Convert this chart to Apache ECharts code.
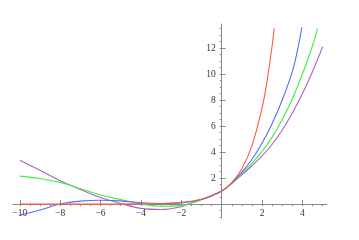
<!DOCTYPE html>
<html><head><meta charset="utf-8">
<script src="https://cdn.jsdelivr.net/npm/echarts@6/dist/echarts.min.js"></script>
<style>html,body{margin:0;padding:0;background:#fff}#c{width:359px;height:240px}</style>
</head><body><div id="c"></div>
<script>
// x positions and read values for each curve
const redX    = [-10, -9, -8, -7, -6, -5, -4, -3, -2, -1.5, -1, -0.5, 0, 0.5, 1, 1.5, 2, 2.25, 2.5, 2.6];
const redY    = [0, 0, 0, 0, 0, 0.01, 0.02, 0.05, 0.14, 0.22, 0.37, 0.61, 1, 1.65, 2.72, 4.5, 7.4, 9.5, 12.2, 13.5];
const blueX   = [-10, -9, -8, -7, -6, -5, -4, -3, -2, -1, 0, 0.5, 1, 1.5, 2, 2.5, 3, 3.5, 3.75, 3.97];
const blueY   = [-0.85, -0.45, 0, 0.23, 0.3, 0.25, 0.1, 0.04, 0.08, 0.37, 1, 1.62, 2.45, 3.45, 4.7, 6.2, 8.0, 10.2, 11.8, 13.6];
const greenX  = [-10, -9, -8, -7, -6, -5, -4, -3, -2, -1, 0, 0.5, 1, 1.5, 2, 2.5, 3, 3.5, 4, 4.5, 4.75];
const greenY  = [2.15, 1.97, 1.67, 1.2, 0.7, 0.35, 0.02, -0.17, -0.1, 0.35, 1, 1.6, 2.35, 3.15, 4.05, 5.15, 6.5, 8.1, 10.0, 12.2, 13.5];
const purpleX = [-10, -9, -8, -7, -6, -5, -4, -3, -2, -1.5, -1, 0, 0.5, 1, 1.5, 2, 2.5, 3, 3.5, 4, 4.5, 5];
const purpleY = [3.38, 2.6, 1.8, 1.13, 0.5, 0.05, -0.33, -0.42, -0.2, 0.08, 0.33, 1, 1.6, 2.25, 2.95, 3.7, 4.6, 5.7, 7.0, 8.5, 10.2, 12.1];

const xMajor = [-10, -8, -6, -4, -2, 0, 2, 4];
const xLabels = [-10, -8, -6, -4, -2, 2, 4];
const yMajor = [0, 2, 4, 6, 8, 10, 12];
const yLabels = [2, 4, 6, 8, 10, 12];

const halves = (a, b) => { const r = []; for (let v = a; v <= b + 1e-9; v += 0.5) r.push(Math.round(v * 2) / 2); return r; };
const xMinor = halves(-10, 5);
const yMinor = halves(-1, 13.5);
const pairs = (xs, ys) => xs.map((x, i) => [x, ys[i]]);

const W = 359, H = 240;
const G = {left: 12.7, right: 32.3, top: 24, bottom: 22};
const X0 = -10.35, X1 = 5.2, Y0 = -1.07, Y1 = 13.85;
// labels stay at the grid edges, so shift them onto the zero-crossing axes
const gw = W - G.left - G.right, gh = H - G.top - G.bottom;
const zeroXpx = (0 - X0) / (X1 - X0) * gw;          // from grid left
const zeroYpx = (0 - Y0) / (Y1 - Y0) * gh;          // from grid bottom
const xLabMargin = -zeroYpx + 4.5;
const yLabMargin = -zeroXpx + 6;

const axisCol = '#8a8a8a';
const lab = {fontFamily: 'Liberation Serif, Times New Roman, serif', fontSize: 9.5, color: '#333',
  formatter: v => String(v).replace('-', '\u2212')};

const chart = echarts.init(document.getElementById('c'), null, {renderer: 'canvas'});
chart.setOption({
  animation: false,
  grid: Object.assign({containLabel: false}, G),
  xAxis: [
    {type: 'value', min: X0, max: X1,
     axisLine: {onZero: true, onZeroAxisIndex: 0, lineStyle: {color: axisCol, width: 1}},
     axisTick: {show: true, inside: true, length: 4, customValues: xMajor, lineStyle: {color: axisCol}},
     axisLabel: Object.assign({customValues: xLabels, margin: xLabMargin}, lab),
     splitLine: {show: false}},
    {type: 'value', min: X0, max: X1,
     axisLine: {show: false, onZero: true, onZeroAxisIndex: 0},
     axisTick: {show: true, inside: true, length: 2, customValues: xMinor, lineStyle: {color: axisCol}},
     axisLabel: {show: false}, splitLine: {show: false}}
  ],
  yAxis: [
    {type: 'value', min: Y0, max: Y1,
     axisLine: {show: true, onZero: true, onZeroAxisIndex: 0, lineStyle: {color: axisCol, width: 1}},
     axisTick: {show: true, inside: true, length: 4, customValues: yMajor, lineStyle: {color: axisCol}},
     axisLabel: Object.assign({customValues: yLabels, margin: yLabMargin}, lab),
     splitLine: {show: false}},
    {type: 'value', min: Y0, max: Y1,
     axisLine: {show: false, onZero: true, onZeroAxisIndex: 0},
     axisTick: {show: true, inside: true, length: 2, customValues: yMinor, lineStyle: {color: axisCol}},
     axisLabel: {show: false}, splitLine: {show: false}}
  ],
  series: [
    {type: 'line', data: pairs(purpleX, purpleY), showSymbol: false, smooth: 0.4, lineStyle: {color: '#b15fc6', width: 1.1}},
    {type: 'line', data: pairs(greenX, greenY), showSymbol: false, smooth: 0.4, lineStyle: {color: '#3ef03e', width: 1.1}},
    {type: 'line', data: pairs(blueX, blueY), showSymbol: false, smooth: 0.4, lineStyle: {color: '#5a6aff', width: 1.1}},
    {type: 'line', data: pairs(redX, redY), showSymbol: false, smooth: 0.4, lineStyle: {color: '#ff5a3a', width: 1.1}}
  ]
});
</script></body></html>
